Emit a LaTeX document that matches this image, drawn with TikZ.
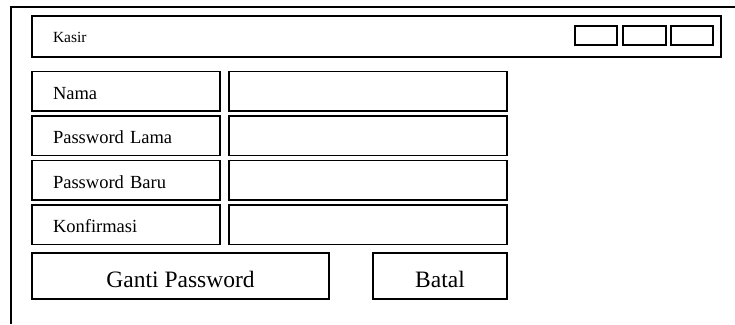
\documentclass[tikz,border=0pt]{standalone}
\usepackage{fontspec}
\setmainfont{Liberation Serif}
\usetikzlibrary{positioning}

\begin{document}
\begin{tikzpicture}[x=1pt, y=-1pt, line width=1.8pt,
    box/.style={draw=black, rectangle, inner sep=0pt, outer sep=0pt},
    field/.style={box, text width=146pt, inner xsep=21pt, minimum height=39.5pt, align=left,
      font=\fontsize{18.5}{22}\selectfont, text height=15.5pt, text depth=0pt},
    entry/.style={box, minimum width=278pt, minimum height=39.5pt},
    winbtn/.style={box, minimum width=42pt, minimum height=19pt},
    button/.style={box, minimum height=46pt, font=\fontsize{23.5}{26}\selectfont,
      text height=22pt, text depth=0pt}]
    \useasboundingbox (0,0) rectangle (735,324);

    % window frame
    \draw (735,7) -| (11,324);

    % title bar
    \node (title) [box, anchor=north west, text width=647pt, inner xsep=21pt, minimum height=41pt,
      align=left, font=\fontsize{15.5}{18}\selectfont, text height=11.6pt, text depth=0pt]
      at (32,16) {Kasir};

    \node (wclose) [winbtn, anchor=north east] at (713,26) {};
    \node (wmax) [winbtn, left=5pt of wclose, minimum width=43pt] {};
    \node (wmin) [winbtn, left=6pt of wmax] {};

    % form rows
    \node (nama) [field, anchor=north west] at (32,71.5) {Nama};
    \node (lama) [field, below=5pt of nama] {Password Lama};
    \node (baru) [field, below=5pt of lama] {Password Baru};
    \node (konf) [field, below=5pt of baru] {Konfirmasi};

    \node (inama) [entry, right=9pt of nama] {};
    \node (ilama) [entry, right=9pt of lama] {};
    \node (ibaru) [entry, right=9pt of baru] {};
    \node (ikonf) [entry, right=9pt of konf] {};

    % buttons
    \node (ganti) [button, minimum width=297pt, below right=8.5pt and 0pt of konf.south west] {Ganti Password};
    \node (batal) [button, minimum width=134pt, below left=8.5pt and 0pt of ikonf.south east] {Batal};
\end{tikzpicture}
\end{document}
